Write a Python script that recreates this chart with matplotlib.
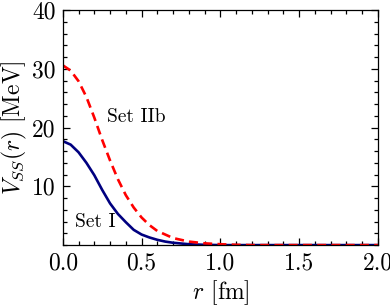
import matplotlib
matplotlib.use("Agg")
import matplotlib.pyplot as plt
from matplotlib.ticker import MultipleLocator

# values
r_set1 = [0.0, 0.05, 0.1, 0.15, 0.2, 0.25, 0.3, 0.35, 0.4, 0.45, 0.5, 0.55,
          0.6, 0.65, 0.7, 0.8, 0.9, 1.0, 2.0]
v_set1 = [17.7, 17.1, 15.8, 14.0, 11.9, 9.4, 7.1, 5.3, 3.9, 2.6, 1.8, 1.3,
          0.9, 0.6, 0.4, 0.15, 0.05, 0.0, 0.0]

r_set2 = [0.0, 0.05, 0.1, 0.15, 0.2, 0.25, 0.3, 0.35, 0.4, 0.45, 0.5, 0.55,
          0.6, 0.7, 0.8, 0.9, 1.0, 1.1, 1.2, 2.0]
v_set2 = [30.6, 29.7, 27.9, 25.2, 21.7, 17.9, 14.4, 11.2, 8.5, 6.4, 4.7, 3.4,
          2.4, 1.2, 0.6, 0.3, 0.15, 0.05, 0.0, 0.0]

x_ticks = [0.0, 0.5, 1.0, 1.5, 2.0]
y_ticks = [10, 20, 30, 40]

plt.rcParams['font.family'] = 'serif'
plt.rcParams['font.serif'] = ['cmr10', 'DejaVu Serif']
plt.rcParams['mathtext.fontset'] = 'cm'
plt.rcParams['axes.formatter.use_mathtext'] = True

fig = plt.figure(figsize=(3.9, 3.06), dpi=100)
ax = fig.add_axes([0.161, 0.199, 0.808, 0.768])

ax.plot(r_set1, v_set1, color='#000080', lw=1.9)
ax.plot(r_set2, v_set2, color='#ff0000', lw=1.9, dashes=(3.4, 2.0))

ax.text(0.283, 21.8, 'Set IIb', fontsize=14, va='center', ha='left')
ax.text(0.08, 3.9, 'Set I', fontsize=14, va='center', ha='left')

ax.set_xlim(0, 2.0)
ax.set_ylim(0, 40)
ax.set_xticks(x_ticks)
ax.set_xticklabels(['%.1f' % t for t in x_ticks])
ax.set_yticks(y_ticks)
ax.set_yticklabels([str(t) for t in y_ticks])
ax.xaxis.set_minor_locator(MultipleLocator(0.1))
ax.yaxis.set_minor_locator(MultipleLocator(2))
ax.tick_params(which='both', direction='in', top=True, right=True,
               labelsize=17, width=0.9)
ax.tick_params(which='major', length=5, pad=5)
ax.tick_params(which='minor', length=3)
for s in ax.spines.values():
    s.set_linewidth(0.9)

ax.set_xlabel(r'$r$ [fm]', fontsize=17, labelpad=3)
ax.set_ylabel(r'$V_{SS}(r)$ [MeV]', fontsize=17, labelpad=2)

fig.savefig('out.png', dpi=100)
